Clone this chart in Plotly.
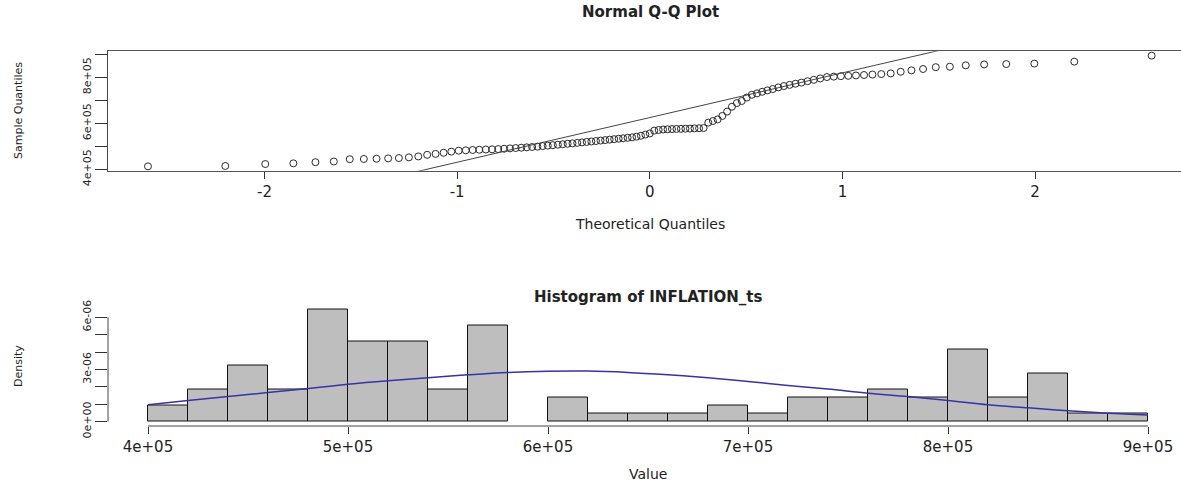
import plotly.graph_objects as go
from statistics import NormalDist

# ---- data ----
inflation_values = [
    413000, 414500,
    423000, 426000, 431000, 434000,
    444000, 445000, 446000, 447500, 449000, 452000, 456000,
    463000, 467000, 472000, 477000,
    481000, 482500, 484000, 485000, 486000, 487000, 488000, 489500, 491000,
    492500, 494000, 495500, 497000, 498500,
    501000, 503000, 505000, 507000, 509000, 511000, 513000, 515000, 517000, 519000,
    521000, 523000, 525000, 527000, 529000, 531000, 533000, 535000, 537000, 539000,
    542000, 546000, 551000, 556000,
    568000, 571000, 573000, 574000, 575000, 575500, 576000, 576500, 577000, 578000,
    578500, 579500,
    603000, 610000, 617000,
    632000,
    651000,
    672000,
    688000, 697000,
    712000,
    724000, 730000, 737000,
    743000, 749000, 756000,
    762000, 767000, 772000, 777000,
    783000, 789000, 795000,
    801000, 803000, 805000, 806500, 808000, 810000, 812000, 814000, 817000,
    824000, 830000, 836000,
    844000, 846000, 852000, 856000, 857500, 859500,
    868000,
    894000,
]

hist_start = 400000
hist_end = 900000
hist_bin = 20000

density_curve_x = [400000, 420000, 440000, 460000, 480000, 500000, 520000, 540000,
                   560000, 580000, 600000, 620000, 640000, 660000, 680000, 700000,
                   720000, 740000, 760000, 780000, 800000, 820000, 840000, 860000,
                   880000, 900000]
density_curve_y = [0.96e-6, 1.21e-6, 1.44e-6, 1.67e-6, 1.90e-6, 2.15e-6, 2.35e-6, 2.52e-6,
                   2.69e-6, 2.83e-6, 2.90e-6, 2.91e-6, 2.83e-6, 2.69e-6, 2.52e-6, 2.31e-6,
                   2.08e-6, 1.87e-6, 1.63e-6, 1.44e-6, 1.21e-6, 0.96e-6, 0.79e-6, 0.62e-6,
                   0.48e-6, 0.38e-6]

qq_xticks = [-2, -1, 0, 1, 2]
qq_yticks = [400000, 500000, 600000, 700000, 800000, 900000]
qq_yticktext = ["4e+05", "", "6e+05", "", "8e+05", ""]
hist_xticks = [400000, 500000, 600000, 700000, 800000, 900000]
hist_xticktext = ["4e+05", "5e+05", "6e+05", "7e+05", "8e+05", "9e+05"]
hist_yticks = [0, 1e-6, 2e-6, 3e-6, 4e-6, 5e-6, 6e-6]
hist_yticktext = ["0e+00", "", "", "3e-06", "", "", "6e-06"]

# ---- derived statistics (as qqnorm / qqline do) ----
sample = sorted(inflation_values)
n = len(sample)
nd = NormalDist()
a = 0.375 if n <= 10 else 0.5
theo = [nd.inv_cdf((i + 1 - a) / (n + 1 - 2 * a)) for i in range(n)]


def quantile7(v, p):
    h = (len(v) - 1) * p
    lo = int(h)
    hi = min(lo + 1, len(v) - 1)
    return v[lo] + (h - lo) * (v[hi] - v[lo])


q1, q3 = quantile7(sample, 0.25), quantile7(sample, 0.75)
t1, t3 = nd.inv_cdf(0.25), nd.inv_cdf(0.75)
slope = (q3 - q1) / (t3 - t1)
intercept = q1 - slope * t1
line_x = [-4, 4]
line_y = [intercept + slope * x for x in line_x]

# ---- figure ----
W, H = 1181, 486
FONT = "DejaVu Sans"
fig = go.Figure()

fig.add_trace(go.Scatter(
    x=theo, y=sample, mode="markers",
    marker=dict(symbol="circle-open", size=7, color="#2a2a2a", line=dict(width=1)),
    xaxis="x", yaxis="y", showlegend=False, hoverinfo="x+y"))
fig.add_trace(go.Scatter(
    x=line_x, y=line_y, mode="lines", line=dict(color="#444444", width=1),
    xaxis="x", yaxis="y", showlegend=False, hoverinfo="skip"))

fig.add_trace(go.Histogram(
    x=inflation_values, histnorm="probability density",
    xbins=dict(start=hist_start, end=hist_end, size=hist_bin), autobinx=False,
    marker=dict(color="#bebebe", line=dict(color="#111111", width=1)),
    xaxis="x2", yaxis="y2", showlegend=False))
fig.add_trace(go.Scatter(
    x=density_curve_x, y=density_curve_y, mode="lines",
    line=dict(color="#3434a6", width=1.5, shape="spline"),
    xaxis="x2", yaxis="y2", showlegend=False))


def px_x(p):
    return p / W


def px_y(p):
    return 1 - p / H


xdom = [px_x(108), 1]
tickfont = dict(family=FONT, size=15, color="#222222")
vtickfont = dict(family=FONT, size=11, color="#222222")

fig.update_layout(
    width=W, height=H,
    margin=dict(l=0, r=0, t=0, b=0, autoexpand=False),
    paper_bgcolor="white", plot_bgcolor="white",
    bargap=0,
    xaxis=dict(domain=xdom, range=[-2.813, 2.758], anchor="y",
               showgrid=False, zeroline=False, showline=True, mirror=True,
               linecolor="#555555", linewidth=1,
               ticks="outside", ticklen=7, tickcolor="#333333",
               tickvals=qq_xticks, ticktext=[str(v) for v in qq_xticks],
               tickfont=tickfont),
    yaxis=dict(domain=[px_y(170.7), px_y(51.3)], range=[394000, 913000], anchor="x",
               showgrid=False, zeroline=False, showline=True, mirror=False,
               linecolor="#444444", linewidth=1,
               ticks="outside", ticklen=12, tickcolor="#333333",
               tickvals=qq_yticks, ticktext=qq_yticktext, tickangle=-90,
               tickfont=vtickfont),
    xaxis2=dict(domain=xdom, range=[380000, 916500], anchor="y2",
                showgrid=False, zeroline=False, showline=False,
                ticks="outside", ticklen=7, tickcolor="#333333",
                tickvals=hist_xticks, ticktext=hist_xticktext, tickfont=tickfont),
    yaxis2=dict(domain=[px_y(426), px_y(305.5)], range=[-0.257e-6, 6.68e-6], anchor="x2",
                showgrid=False, zeroline=False, showline=False,
                ticks="outside", ticklen=12, tickcolor="#333333",
                tickvals=hist_yticks, ticktext=hist_yticktext, tickangle=-90,
                tickfont=vtickfont),
)

# axis lines of the histogram span only the tick range (as in base R)
fig.add_shape(type="line", xref="x2", yref="y2 domain",
              x0=hist_xticks[0], x1=hist_xticks[-1], y0=0, y1=0,
              line=dict(color="#444444", width=1))
fig.add_shape(type="line", xref="x2 domain", yref="y2",
              x0=0, x1=0, y0=hist_yticks[0], y1=hist_yticks[-1],
              line=dict(color="#444444", width=1))

ann = [
    ("<b>Normal Q-Q Plot</b>", 650, 12, 0, 15),
    ("Theoretical Quantiles", 650, 224, 0, 14),
    ("Sample Quantiles", 18, 111, -90, 11),
    ("<b>Histogram of INFLATION_ts</b>", 648, 297, 0, 15),
    ("Value", 648, 474, 0, 14),
    ("Density", 18, 366, -90, 11),
]
for text, x, y, ang, size in ann:
    fig.add_annotation(text=text, x=px_x(x), y=px_y(y), xref="paper", yref="paper",
                       xanchor="center", yanchor="middle", showarrow=False,
                       textangle=ang, font=dict(family=FONT, size=size, color="#222222"))

fig.write_html("out.html")
